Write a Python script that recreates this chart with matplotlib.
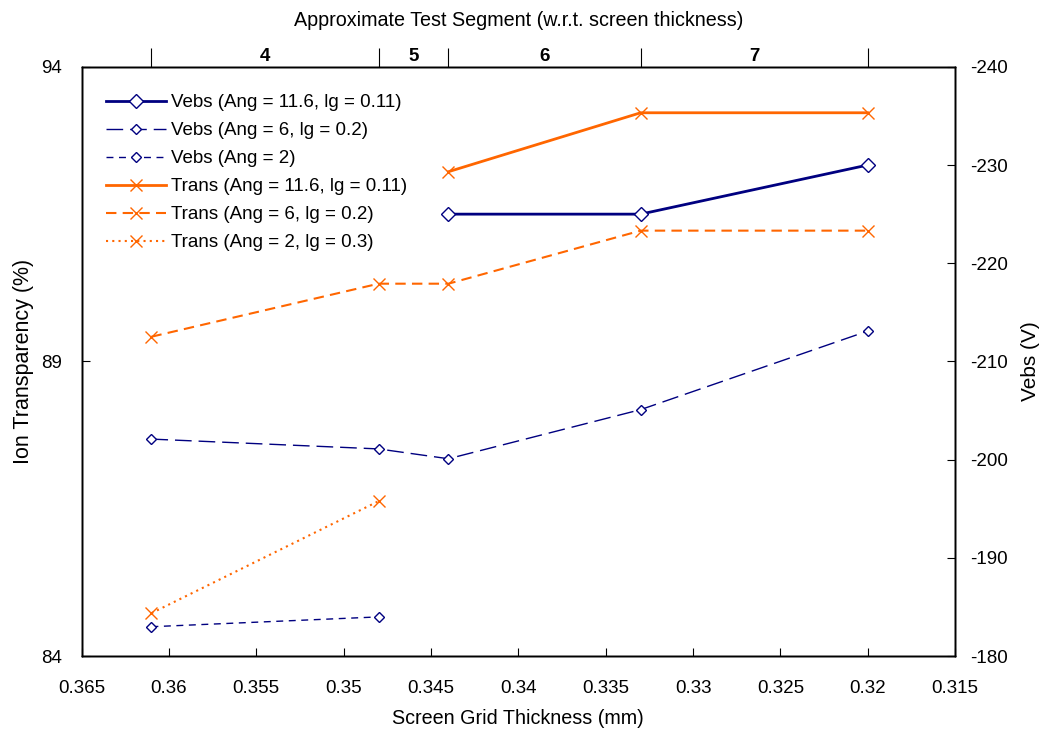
import numpy as np
import matplotlib
matplotlib.use('Agg')
import matplotlib.pyplot as plt

plt.rcParams['font.family'] = ['Liberation Sans', 'DejaVu Sans']
plt.rcParams['axes.unicode_minus'] = False

# data
thick_116 = [0.344, 0.333, 0.320]
trans_116 = [92.22, 93.22, 93.22]
vebs_116 = [-225.0, -225.0, -230.0]

thick_6 = [0.361, 0.348, 0.344, 0.333, 0.320]
trans_6 = [89.42, 90.32, 90.32, 91.22, 91.22]
vebs_6 = [-202.1, -201.1, -200.1, -205.1, -213.1]

thick_2 = [0.361, 0.348]
trans_2 = [84.73, 86.63]
vebs_2 = [-183.0, -184.0]

seg_bounds = [0.361, 0.348, 0.344, 0.333, 0.320]
seg_labels = ['4', '5', '6', '7']

navy = '#000080'
orange = '#FF6600'
fs = 13.5

fig = plt.figure(figsize=(10.45, 7.34), dpi=100)
ax = fig.add_subplot(111)
fig.subplots_adjust(left=0.078, right=0.914, top=0.909, bottom=0.106)
ax2 = ax.twinx()
ax3 = ax.twiny()

l1, = ax2.plot(thick_116, vebs_116, color=navy, lw=2, marker='D', markersize=7,
               markerfacecolor='white', markeredgewidth=1.0,
               label='Vebs (Ang = 11.6, lg = 0.11)')
l2, = ax2.plot(thick_6, vebs_6, color=navy, lw=1, dashes=(12, 5), marker='D',
               markersize=5.5, markerfacecolor='white', markeredgewidth=1.0,
               label='Vebs (Ang = 6, lg = 0.2)')
l3, = ax2.plot(thick_2, vebs_2, color=navy, lw=1, dashes=(5, 4), marker='D',
               markersize=5.5, markerfacecolor='white', markeredgewidth=1.0,
               label='Vebs (Ang = 2)')
l4, = ax.plot(thick_116, trans_116, color=orange, lw=2, marker='x', markersize=9,
              markeredgewidth=1.0, label='Trans (Ang = 11.6, lg = 0.11)')
l5, = ax.plot(thick_6, trans_6, color=orange, lw=1.5, dashes=(5, 3), marker='x',
              markersize=9, markeredgewidth=1.0, label='Trans (Ang = 6, lg = 0.2)')
l6, = ax.plot(thick_2, trans_2, color=orange, lw=1.5, dashes=(1, 2), marker='x',
              markersize=9, markeredgewidth=1.0, label='Trans (Ang = 2, lg = 0.3)')

ax.set_xlim(0.365, 0.315)
ax.set_xticks(np.arange(0.365, 0.3149, -0.005))
ax.set_xticklabels(['0.365', '0.36', '0.355', '0.35', '0.345', '0.34', '0.335',
                    '0.33', '0.325', '0.32', '0.315'])
ax.set_ylim(84, 94)
ax.set_yticks([84, 89, 94])
ax.tick_params(axis='both', direction='in', length=6, labelsize=fs)
ax.tick_params(axis='x', pad=17)
ax.tick_params(axis='y', pad=14)
ax.set_xlabel('Screen Grid Thickness (mm)', fontsize=14.2, labelpad=9)
ax.set_ylabel('Ion Transparency (%)', fontsize=15.5, labelpad=5)

ax2.set_ylim(-180, -240)
ax2.set_yticks(np.arange(-180, -241, -10))
ax2.tick_params(axis='y', direction='in', length=6, labelsize=fs, pad=11)
ax2.set_ylabel('Vebs (V)', fontsize=15, labelpad=9)

ax3.set_xlim(ax.get_xlim())
ax3.set_xticks(seg_bounds)
ax3.set_xticklabels([])
mids = [(a + b) / 2 for a, b in zip(seg_bounds[:-1], seg_bounds[1:])]
ax3.set_xticks(mids, minor=True)
ax3.set_xticklabels(seg_labels, minor=True, fontweight='bold', fontsize=fs)
ax3.tick_params(axis='x', which='major', direction='out', length=14)
ax3.tick_params(axis='x', which='minor', length=0, pad=1)
ax3.set_xlabel('Approximate Test Segment (w.r.t. screen thickness)', fontsize=14.2,
               labelpad=12)

for a in (ax, ax2, ax3):
    for s in a.spines.values():
        s.set_linewidth(1.0)

handles = [l1, l2, l3, l4, l5, l6]
ax3.legend(handles, [h.get_label() for h in handles], loc='upper left',
           bbox_to_anchor=(0.015, 0.973), frameon=False, fontsize=fs,
           handlelength=3.2, labelspacing=0.58, handletextpad=0.25,
           borderaxespad=0.2)

fig.savefig('out.png', dpi=100)
